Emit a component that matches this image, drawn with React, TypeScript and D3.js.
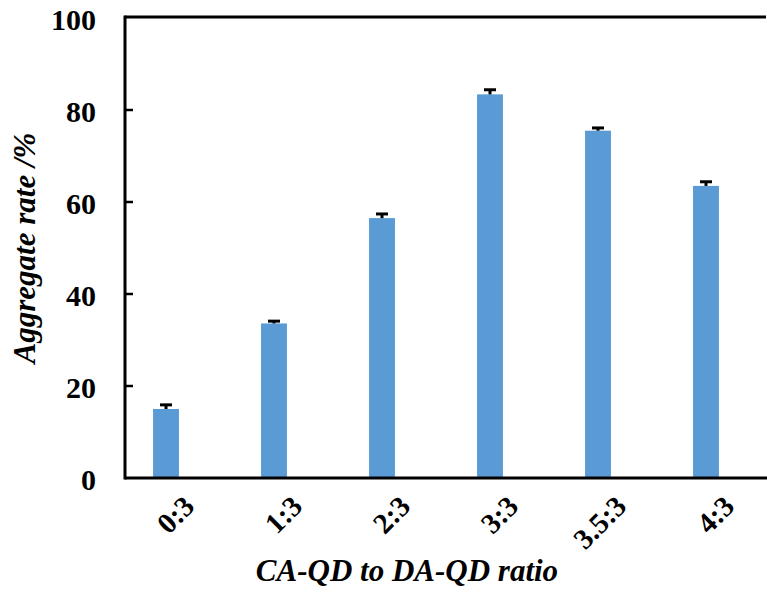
import React from 'react';
import * as d3 from 'd3';

// Chart data
const ratios = ['0:3', '1:3', '2:3', '3:3', '3.5:3', '4:3'];
const rates = [15.0, 33.6, 56.5, 83.4, 75.5, 63.5];
const errors = [0.9, 0.5, 0.9, 1.0, 0.6, 0.9];
const yTicks = [0, 20, 40, 60, 80, 100];

const App = () => {
  const width = 767;
  const height = 595;
  const axisX = 125;
  const axisTop = 17;
  const axisBottom = 478;
  const font = '"Liberation Serif", "Times New Roman", serif';

  const x = d3.scaleBand<string>().domain(ratios).range([112, 760]).paddingInner(0.76).paddingOuter(0.38);
  const y = d3.scaleLinear().domain([0, 100]).range([axisBottom, axisTop + 1]);
  const bw = x.bandwidth();

  return (
    <svg width={width} height={height} style={{ position: 'absolute', left: 0, top: 0, background: '#fff' }}>
      {/* bars */}
      {ratios.map((r, i) => (
        <rect key={r} x={x(r)} y={y(rates[i])} width={bw} height={y(0) - y(rates[i])} fill="#5B9BD5" />
      ))}
      {/* error bars */}
      {ratios.map((r, i) => {
        const cx = (x(r) as number) + bw / 2;
        return (
          <g key={'e' + r} stroke="#000" strokeWidth={3}>
            <line x1={cx} x2={cx} y1={y(rates[i])} y2={y(rates[i] + errors[i])} />
            <line x1={cx - 6} x2={cx + 6} y1={y(rates[i] + errors[i])} y2={y(rates[i] + errors[i])} />
          </g>
        );
      })}
      {/* frame */}
      <line x1={axisX} x2={766} y1={axisTop} y2={axisTop} stroke="#000" strokeWidth={3} />
      <line x1={axisX} x2={axisX} y1={axisTop - 1.5} y2={axisBottom + 1.5} stroke="#000" strokeWidth={3} />
      <line x1={axisX} x2={767} y1={axisBottom} y2={axisBottom} stroke="#000" strokeWidth={3} />
      {/* y ticks */}
      {yTicks.map((t) => (
        <g key={t}>
          {t > 0 && t < 100 && (
            <line x1={axisX} x2={axisX + 8} y1={y(t)} y2={y(t)} stroke="#000" strokeWidth={2.5} />
          )}
          <text x={96} y={y(t)} dy="0.4em" textAnchor="end" fontFamily={font} fontWeight="bold" fontSize={30}>
            {t}
          </text>
        </g>
      ))}
      {/* x tick labels */}
      {ratios.map((r) => {
        const cx = (x(r) as number) + bw / 2;
        return (
          <text
            key={'l' + r}
            transform={`translate(${cx + 30},${508}) rotate(-45)`}
            textAnchor="end"
            fontFamily={font}
            fontWeight="bold"
            fontSize={29}
          >
            {r}
          </text>
        );
      })}
      {/* axis titles */}
      <text x={407} y={581} textAnchor="middle" fontFamily={font} fontWeight="bold" fontStyle="italic" fontSize={31}>
        CA-QD to DA-QD ratio
      </text>
      <text
        transform={`translate(35,${248}) rotate(-90)`}
        textAnchor="middle"
        fontFamily={font}
        fontWeight="bold"
        fontStyle="italic"
        fontSize={31}
      >
        Aggregate rate /%
      </text>
    </svg>
  );
};

export default App;
